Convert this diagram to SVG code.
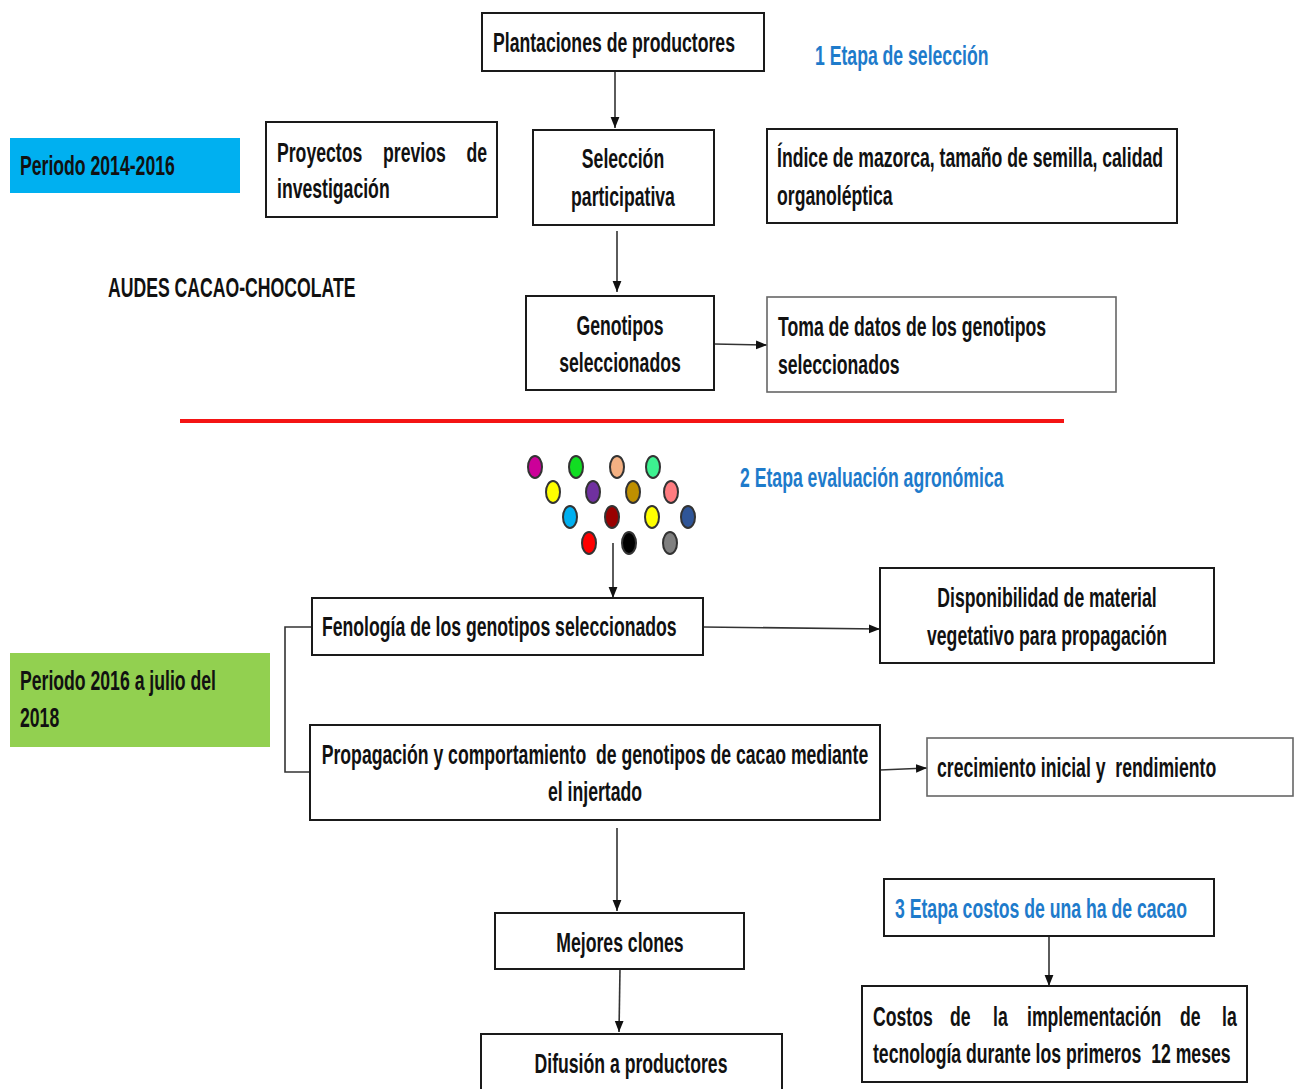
<svg xmlns="http://www.w3.org/2000/svg" width="1298" height="1089" viewBox="0 0 1298 1089">
<defs>
<style>
.box{fill:#fff;stroke:#1a1a1a;stroke-width:2}
.lbox{fill:#fff;stroke:#666;stroke-width:1.6}
.t{font-family:"Liberation Sans",Arial,sans-serif;font-weight:bold;font-size:27px;fill:#111;white-space:pre}
.b{fill:#1E7BCB}
.m{text-anchor:middle}
.c{stroke:#333;stroke-width:1.6;fill:none}
.dot{stroke:#333;stroke-width:2}
</style>
<marker id="ah" viewBox="0 0 10 10" refX="10" refY="5" markerWidth="11" markerHeight="11" markerUnits="userSpaceOnUse" orient="auto">
<path d="M0,1 L10,5 L0,9 z" fill="#111"/>
</marker>
</defs>
<rect width="1298" height="1089" fill="#fff"/>

<g id="connectors">
<line class="c" x1="615" y1="71" x2="615" y2="128" marker-end="url(#ah)"/>
<line class="c" x1="617" y1="231" x2="617" y2="292" marker-end="url(#ah)"/>
<line class="c" x1="714" y1="344" x2="767" y2="345" marker-end="url(#ah)"/>
<line class="c" x1="613" y1="543" x2="613" y2="598" marker-end="url(#ah)"/>
<line class="c" x1="703" y1="627" x2="880" y2="629" marker-end="url(#ah)"/>
<polyline class="c" stroke="#777" points="312,627 285,627 285,772 310,772"/>
<line class="c" x1="880" y1="770" x2="927" y2="768" marker-end="url(#ah)"/>
<line class="c" x1="617" y1="828" x2="617" y2="911" marker-end="url(#ah)"/>
<line class="c" x1="620" y1="969" x2="619" y2="1032" marker-end="url(#ah)"/>
<line class="c" x1="1049" y1="936" x2="1049" y2="986" marker-end="url(#ah)"/>
</g>

<line id="separator" x1="180" y1="421" x2="1064" y2="421" stroke="#F41414" stroke-width="4"/>

<g id="plantaciones">
<rect class="box" x="482" y="13" width="282" height="58"/>
<text class="t" transform="translate(493,52) scale(.653,1)">Plantaciones de productores</text>
</g>
<g id="etapa1">
<text class="t b" transform="translate(815,65) scale(.653,1)">1 Etapa de selección</text>
</g>
<g id="periodo1">
<rect x="10" y="138" width="230" height="55" fill="#00B0F0"/>
<text class="t" transform="translate(20,175) scale(.653,1)">Periodo 2014-2016</text>
</g>
<g id="proyectos">
<rect class="box" x="266" y="122" width="231" height="95"/>
<text class="t" transform="translate(277,162) scale(.653,1)">Proyectos</text>
<text class="t" transform="translate(383,162) scale(.653,1)">previos</text>
<text class="t" transform="translate(466.5,162) scale(.653,1)">de</text>
<text class="t" transform="translate(277,198) scale(.653,1)">investigación</text>
</g>
<g id="seleccion">
<rect class="box" x="533" y="130" width="181" height="95"/>
<text class="t m" transform="translate(623,168) scale(.653,1)">Selección</text>
<text class="t m" transform="translate(623,206) scale(.653,1)">participativa</text>
</g>
<g id="indice">
<rect class="box" x="767" y="129" width="410" height="94"/>
<text class="t" transform="translate(777,167) scale(.653,1)">Índice de mazorca, tamaño de semilla, calidad</text>
<text class="t" transform="translate(777,205) scale(.653,1)">organoléptica</text>
</g>
<g id="audes">
<text class="t" transform="translate(108,297) scale(.653,1)">AUDES CACAO-CHOCOLATE</text>
</g>
<g id="genotipos">
<rect class="box" x="526" y="296" width="188" height="94"/>
<text class="t m" transform="translate(620,335) scale(.653,1)">Genotipos</text>
<text class="t m" transform="translate(620,372) scale(.653,1)">seleccionados</text>
</g>
<g id="toma">
<rect class="lbox" x="767" y="297" width="349" height="95"/>
<text class="t" transform="translate(778,336) scale(.653,1)">Toma de datos de los genotipos</text>
<text class="t" transform="translate(778,374) scale(.653,1)">seleccionados</text>
</g>

<g id="genotipos-dots">
<ellipse class="dot" cx="535" cy="467" rx="7" ry="11" fill="#CC0099"/>
<ellipse class="dot" cx="576" cy="467" rx="7" ry="11" fill="#11DD22"/>
<ellipse class="dot" cx="617" cy="467" rx="7" ry="11" fill="#F4B183"/>
<ellipse class="dot" cx="653" cy="467" rx="7" ry="11" fill="#3DF290"/>
<ellipse class="dot" cx="553" cy="492" rx="7" ry="11" fill="#FFFF00"/>
<ellipse class="dot" cx="593" cy="492" rx="7" ry="11" fill="#7030A0"/>
<ellipse class="dot" cx="633" cy="492" rx="7" ry="11" fill="#BF8F00"/>
<ellipse class="dot" cx="671" cy="492" rx="7" ry="11" fill="#FF7C80"/>
<ellipse class="dot" cx="570" cy="517" rx="7" ry="11" fill="#00B0F0"/>
<ellipse class="dot" cx="612" cy="517" rx="7" ry="11" fill="#990000"/>
<ellipse class="dot" cx="652" cy="517" rx="7" ry="11" fill="#FFFF00"/>
<ellipse class="dot" cx="688" cy="517" rx="7" ry="11" fill="#2F5597"/>
<ellipse class="dot" cx="589" cy="543" rx="7" ry="11" fill="#FF0000"/>
<ellipse class="dot" cx="629" cy="543" rx="7" ry="11" fill="#000000"/>
<ellipse class="dot" cx="670" cy="543" rx="7" ry="11" fill="#808080"/>
</g>
<g id="etapa2">
<text class="t b" transform="translate(740,487) scale(.653,1)">2 Etapa evaluación agronómica</text>
</g>
<g id="fenologia">
<rect class="box" x="312" y="598" width="391" height="57"/>
<text class="t" transform="translate(322,636) scale(.653,1)">Fenología de los genotipos seleccionados</text>
</g>
<g id="disponibilidad">
<rect class="box" x="880" y="568" width="334" height="95"/>
<text class="t m" transform="translate(1047,607) scale(.653,1)">Disponibilidad de material</text>
<text class="t m" transform="translate(1047,645) scale(.653,1)">vegetativo para propagación</text>
</g>
<g id="periodo2">
<rect x="10" y="653" width="260" height="94" fill="#92D050"/>
<text class="t" transform="translate(20,690) scale(.653,1)">Periodo 2016 a julio del</text>
<text class="t" transform="translate(20,727) scale(.653,1)">2018</text>
</g>
<g id="propagacion">
<rect class="box" x="310" y="725" width="570" height="95"/>
<text class="t m" transform="translate(595,764) scale(.653,1)">Propagación y comportamiento  de genotipos de cacao mediante</text>
<text class="t m" transform="translate(595,801) scale(.653,1)">el injertado</text>
</g>
<g id="crecimiento">
<rect class="lbox" x="927" y="738" width="366" height="58"/>
<text class="t" transform="translate(937,777) scale(.653,1)">crecimiento inicial y  rendimiento</text>
</g>
<g id="mejores">
<rect class="box" x="495" y="913" width="249" height="56"/>
<text class="t m" transform="translate(620,952) scale(.653,1)">Mejores clones</text>
</g>
<g id="difusion">
<rect class="box" x="481" y="1034" width="301" height="60"/>
<text class="t m" transform="translate(631,1073) scale(.653,1)">Difusión a productores</text>
</g>
<g id="etapa3">
<rect class="box" x="884" y="879" width="330" height="57"/>
<text class="t b" transform="translate(895,918) scale(.653,1)">3 Etapa costos de una ha de cacao</text>
</g>
<g id="costos">
<rect class="box" x="862" y="986" width="385" height="96"/>
<text class="t" transform="translate(873,1026) scale(.653,1)">Costos</text>
<text class="t" transform="translate(950,1026) scale(.653,1)">de</text>
<text class="t" transform="translate(993,1026) scale(.653,1)">la</text>
<text class="t" transform="translate(1027,1026) scale(.653,1)">implementación</text>
<text class="t" transform="translate(1180,1026) scale(.653,1)">de</text>
<text class="t" transform="translate(1222,1026) scale(.653,1)">la</text>
<text class="t" transform="translate(873,1063) scale(.653,1)">tecnología durante los primeros  12 meses</text>
</g>
</svg>
